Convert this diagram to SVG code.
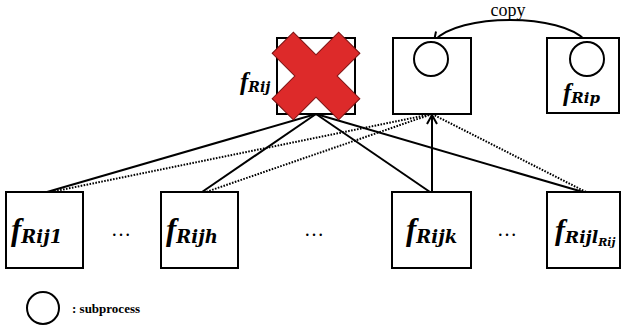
<svg xmlns="http://www.w3.org/2000/svg" width="621" height="335" viewBox="0 0 621 335">
  <defs>
    <style>
      .box { fill: #fff; stroke: #000; stroke-width: 2; }
      .sub { fill: none; stroke: #000; stroke-width: 2; }
      .solid { fill: none; stroke: #000; stroke-width: 2; }
      .head { fill: none; stroke: #000; stroke-width: 2; stroke-linejoin: miter; }
      .dot { fill: none; stroke: #000; stroke-width: 2; stroke-dasharray: 1.6 1.4; }
      .f { font-family: "Liberation Serif", "DejaVu Serif", serif; font-style: italic; font-weight: bold; fill: #000; }
      .idx { font-family: "DejaVu Serif", "Liberation Serif", serif; font-style: italic; font-weight: bold; fill: #000; }
      .dots { font-family: "Liberation Serif", serif; font-size: 20px; fill: #000; }
    </style>
  </defs>

  <!-- connectors -->
  <g id="connectors">
    <line class="solid" x1="316" y1="114" x2="47" y2="192"/>
    <line class="solid" x1="316" y1="114" x2="202" y2="192"/>
    <line class="solid" x1="316" y1="114" x2="430" y2="192"/>
    <line class="solid" x1="316" y1="114" x2="583" y2="192"/>
    <line class="dot" x1="432" y1="114" x2="51" y2="192"/>
    <line class="dot" x1="432" y1="114" x2="206" y2="192"/>
    <line class="dot" x1="432" y1="114" x2="586" y2="192"/>
    <!-- vertical arrow up into the receiving function -->
    <line class="solid" x1="432" y1="192" x2="432" y2="116"/>
    <path class="head" d="M427,124 L432,115 L437,124"/>
    <!-- copy arrow -->
    <path class="solid" d="M586,41 C562,13 458,13 434,41"/>
    <path class="head" d="M443.5,38.5 L434,41 L436,31.5"/>
    <text x="508" y="16" font-family="Liberation Serif, serif" font-size="18" text-anchor="middle">copy</text>
  </g>

  <!-- removed function f_Rij -->
  <g id="f_Rij">
    <rect class="box" x="277" y="38" width="78" height="76"/>
    <polygon transform="translate(316,76) rotate(45)" fill="#dd2a2a" stroke="#7a1010" stroke-width="1"
      points="15,-47 15,-15 47,-15 47,15 15,15 15,47 -15,47 -15,15 -47,15 -47,-15 -15,-15 -15,-47"/>
    <text x="240" y="90"><tspan class="f" font-size="25">f</tspan><tspan class="idx" font-size="14" dy="2">Rij</tspan></text>
  </g>

  <!-- receiving function -->
  <g id="f_new">
    <rect class="box" x="393" y="38" width="78" height="76"/>
    <circle class="sub" cx="431" cy="59" r="17"/>
  </g>

  <!-- f_Rip -->
  <g id="f_Rip">
    <rect class="box" x="547" y="38" width="72" height="75"/>
    <circle class="sub" cx="587" cy="59" r="17"/>
    <text x="563" y="101"><tspan class="f" font-size="25">f</tspan><tspan class="idx" font-size="15" dy="2">Rip</tspan></text>
  </g>

  <!-- child functions -->
  <g id="f_Rij1">
    <rect class="box" x="6" y="192" width="77" height="76"/>
    <text x="11" y="240"><tspan class="f" font-size="31">f</tspan><tspan class="idx" font-size="18" dy="3">Rij1</tspan></text>
  </g>
  <text class="dots" x="121" y="236" text-anchor="middle">…</text>

  <g id="f_Rijh">
    <rect class="box" x="161" y="192" width="77" height="76"/>
    <text x="166" y="240"><tspan class="f" font-size="31">f</tspan><tspan class="idx" font-size="18" dy="3">Rijh</tspan></text>
  </g>
  <text class="dots" x="314" y="236" text-anchor="middle">…</text>

  <g id="f_Rijk">
    <rect class="box" x="392" y="192" width="79" height="76"/>
    <text x="406" y="240"><tspan class="f" font-size="31">f</tspan><tspan class="idx" font-size="18" dy="3">Rijk</tspan></text>
  </g>
  <text class="dots" x="507" y="236" text-anchor="middle">…</text>

  <g id="f_Rijl">
    <rect class="box" x="547" y="192" width="73" height="76"/>
    <text x="555" y="240"><tspan class="f" font-size="30">f</tspan><tspan class="idx" font-size="17" dy="3">Rijl</tspan><tspan class="idx" font-size="11" dy="3">Rij</tspan></text>
  </g>

  <!-- legend -->
  <g id="legend">
    <circle class="sub" cx="43" cy="308" r="16"/>
    <text x="72" y="313" font-family="Liberation Serif, serif" font-size="13" font-weight="bold">: subprocess</text>
  </g>
</svg>
